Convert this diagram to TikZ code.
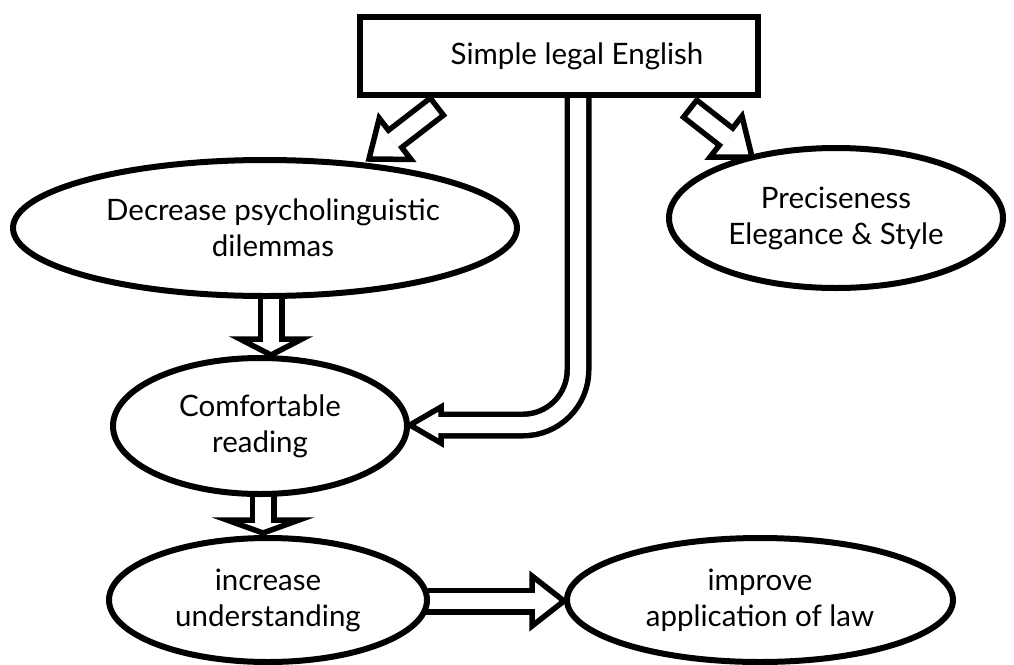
\documentclass[tikz,border=0pt]{standalone}
\usepackage{fontspec}
\setmainfont{Lato}
\usetikzlibrary{calc,shapes.geometric}
\pgfdeclarelayer{bg}
\pgfsetlayers{bg,main}
\tikzset{
  txt/.style={font=\fontsize{29.5}{36}\selectfont},
  ell/.style={ellipse, draw, line width=6pt, fill=white, inner sep=0pt, align=center, txt},
  boxnode/.style={rectangle, draw, line width=6pt, fill=white, inner sep=0pt, align=center, txt},
  shaftout/.style={line width=27pt, line cap=butt},
  shaftin/.style={draw=white, line width=16pt, line cap=butt},
  headstyle/.style={fill=white, draw=black, line width=5.5pt, line join=miter},
}
% #1 start, #2 tip, #3 head length, #4 head half width
\newcommand\holarrow[4]{%
  \coordinate (hb) at ($(#2)!#3!(#1)$);
  \coordinate (hl) at ($(hb)!#4!90:(#2)$);
  \coordinate (hr) at ($(hb)!#4!-90:(#2)$);
  \draw[shaftout] (#1) -- (hb);
  \filldraw[headstyle] (#2) -- (hl) -- (hr) -- cycle;
  \draw[shaftin] ($(#1)!5.5pt!(#2)$) -- ($(hb)!-3pt!(#1)$);
}
\begin{document}
\begin{tikzpicture}[x=1pt,y=-1pt]
\useasboundingbox (0,0) rectangle (1014,664);

\node[boxnode, minimum width=398pt, minimum height=78pt] (box) at (559,56) {\hspace*{36pt}Simple legal English};
\node[ell, minimum width=504pt, minimum height=136pt] (dec) at (265,228) {\hspace*{16pt}Decrease psycholinguistic\\\hspace*{16pt}dilemmas};
\node[ell, minimum width=334pt, minimum height=140pt] (pre) at (836,218) {Preciseness\\Elegance \& Style};
\node[ell, minimum width=294pt, minimum height=136pt] (com) at (260,426) {Comfortable\\reading};
\node[ell, minimum width=318pt, minimum height=124pt] (inc) at (268,600) {increase\\understanding};
\node[ell, minimum width=386pt, minimum height=124pt] (imp) at (760,600) {improve\\application of law};

\begin{pgfonlayer}{bg}
  % left diagonal
  \coordinate (a1s) at ($(box.south west)+(82,7)$);
  \coordinate (a1t) at ($(dec.north)+(104,2)$);
  \holarrow{a1s}{a1t}{33pt}{26pt}
  % right diagonal
  \coordinate (a2s) at ($(box.south east)+(-73,9)$);
  \coordinate (a2t) at ($(pre.north)+(-84,12)$);
  \holarrow{a2s}{a2t}{33pt}{26pt}
  % dec -> com
  \coordinate (a3s) at ($(dec.south)+(6,-10)$);
  \coordinate (a3t) at ($(com.north)+(11,0)$);
  \holarrow{a3s}{a3t}{16pt}{31pt}
  % com -> inc
  \coordinate (a4s) at ($(com.south)+(3,-10)$);
  \coordinate (a4t) at ($(inc.north)+(-5,-2)$);
  \holarrow{a4s}{a4t}{13pt}{36pt}
  % inc -> imp
  \coordinate (a5s) at ($(inc.east)+(-10,1)$);
  \coordinate (a5t) at ($(imp.west)+(0,1)$);
  \holarrow{a5s}{a5t}{32pt}{25pt}
  % box -> com (L shaped)
  \coordinate (a6s) at ($(box.south)+(19,-10)$);
  \coordinate (a6t) at ($(com.east)+(0,-1)$);
  \coordinate (a6b) at ($(a6t)+(31,0)$);
  \draw[shaftout, rounded corners=55pt] (a6s) |- (a6b);
  \filldraw[headstyle] (a6t) -- ($(a6b)+(0,-18)$) -- ($(a6b)+(0,18)$) -- cycle;
  \draw[shaftin, rounded corners=55pt] (a6s) |- ($(a6b)+(-3,0)$);
\end{pgfonlayer}
\end{tikzpicture}
\end{document}
